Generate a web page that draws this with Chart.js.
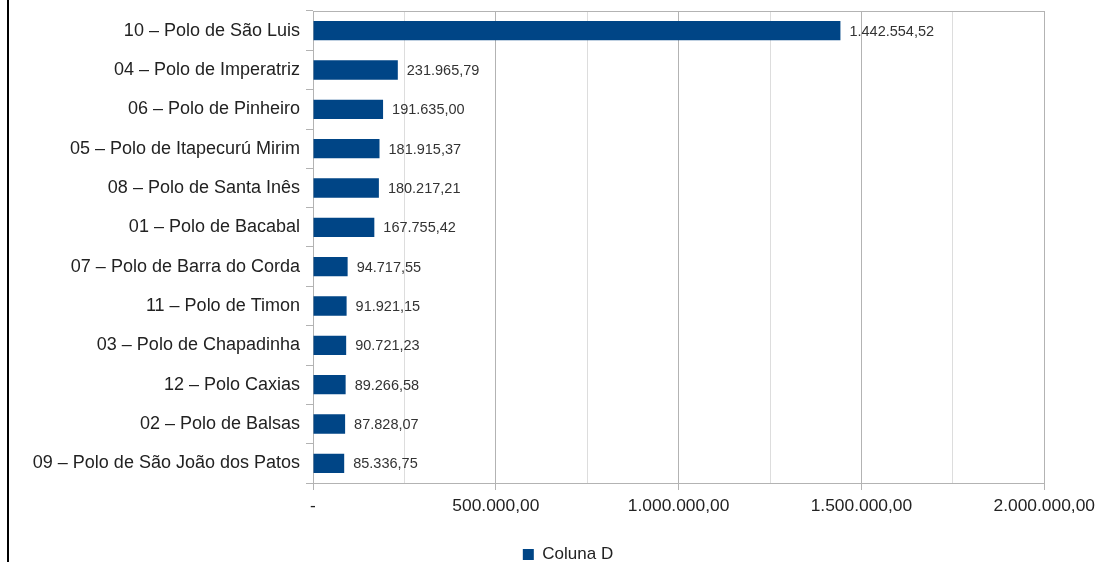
<!DOCTYPE html>
<html>
<head>
<meta charset="utf-8">
<script src="https://cdn.jsdelivr.net/npm/chart.js@4.4.1/dist/chart.umd.min.js"></script>
<style>
    html, body { margin: 0; padding: 0; background: #fff; }
    #wrap { position: relative; width: 1101px; height: 562px; }
    #edge { position: absolute; left: 7px; top: 0; width: 2px; height: 562px; background: #000; }
</style>
</head>
<body>
<div id="wrap">
    <canvas id="chart" width="1101" height="562"></canvas>
    <div id="edge"></div>
</div>
<script>
const categories = [
    "10 – Polo de São Luis",
    "04 – Polo de Imperatriz",
    "06 – Polo de Pinheiro",
    "05 – Polo de Itapecurú Mirim",
    "08 – Polo de Santa Inês",
    "01 – Polo de Bacabal",
    "07 – Polo de Barra do Corda",
    "11 – Polo de Timon",
    "03 – Polo de Chapadinha",
    "12 – Polo Caxias",
    "02 – Polo de Balsas",
    "09 – Polo de São João dos Patos"
];
const values = [
    1442554.52, 231965.79, 191635.00, 181915.37, 180217.21, 167755.42,
    94717.55, 91921.15, 90721.23, 89266.58, 87828.07, 85336.75
];
const seriesName = "Coluna D";
const axisMax = 2000000;
const gridStep = 250000;
const labelStep = 500000;

const BAR = '#004586';
const FONT = '"Liberation Sans", Arial, sans-serif';

const fmt = new Intl.NumberFormat('pt-BR', { minimumFractionDigits: 2, maximumFractionDigits: 2 });
const fmtTick = v => v === 0 ? '-' : fmt.format(v);

// value labels at the end of each bar
const valueLabels = {
    id: 'valueLabels',
    afterDatasetsDraw(chart) {
        const ctx = chart.ctx;
        const meta = chart.getDatasetMeta(0);
        ctx.save();
        ctx.font = '14.5px ' + FONT;
        ctx.fillStyle = '#333';
        ctx.textAlign = 'left';
        ctx.textBaseline = 'middle';
        meta.data.forEach((bar, i) => {
            ctx.fillText(fmt.format(values[i]), bar.x + 9, bar.y + 1);
        });
        ctx.restore();
    }
};

// top edge of plot area + legend nudged to sit under the whole frame
const plotFrame = {
    id: 'plotFrame',
    afterLayout(chart) {
        const lg = chart.legend;
        if (lg) {
            lg.left += 40;
            lg.right += 40;
            lg.top += 11;
            lg.bottom += 11;
        }
    },
    beforeDatasetsDraw(chart) {
        const { ctx, chartArea } = chart;
        ctx.save();
        ctx.strokeStyle = '#b3b3b3';
        ctx.lineWidth = 1;
        ctx.beginPath();
        ctx.moveTo(chartArea.left, chartArea.top + 0.5);
        ctx.lineTo(chartArea.right, chartArea.top + 0.5);
        ctx.stroke();
        ctx.restore();
    }
};

new Chart(document.getElementById('chart').getContext('2d'), {
    type: 'bar',
    data: {
        labels: categories,
        datasets: [{
            label: seriesName,
            data: values,
            backgroundColor: BAR,
            borderWidth: 0,
            categoryPercentage: 1,
            barPercentage: 0.49
        }]
    },
    options: {
        indexAxis: 'y',
        responsive: false,
        animation: false,
        layout: { padding: { left: 10, right: 55, top: 11, bottom: 0 } },
        scales: {
            x: {
                min: 0,
                max: axisMax,
                afterFit: s => { s.height = 51; },
                border: { color: '#b3b3b3' },
                grid: {
                    color: c => (c.tick && c.tick.value % labelStep === 0) ? '#b3b3b3' : '#dddddd',
                    tickColor: c => (c.tick && c.tick.value % labelStep === 0) ? '#b3b3b3' : 'rgba(0,0,0,0)',
                    tickLength: 7
                },
                ticks: {
                    stepSize: gridStep,
                    autoSkip: false,
                    maxRotation: 0,
                    padding: 6,
                    color: '#222',
                    font: { family: FONT, size: 17.4 },
                    callback: v => v % labelStep === 0 ? fmtTick(v) : ''
                }
            },
            y: {
                afterFit: s => { s.width = 303; s.paddingTop = 0; s.paddingBottom = 0; },
                border: { color: '#b3b3b3' },
                grid: {
                    drawOnChartArea: false,
                    offset: true,
                    color: '#b3b3b3',
                    tickLength: 7
                },
                ticks: {
                    padding: 6,
                    color: '#222',
                    font: { family: FONT, size: 18 }
                }
            }
        },
        plugins: {
            legend: {
                position: 'bottom',
                labels: {
                    boxWidth: 11,
                    boxHeight: 11,
                    padding: 1,
                    color: '#222',
                    font: { family: FONT, size: 17 }
                }
            },
            tooltip: { enabled: false }
        }
    },
    plugins: [valueLabels, plotFrame]
});
</script>
</body>
</html>
